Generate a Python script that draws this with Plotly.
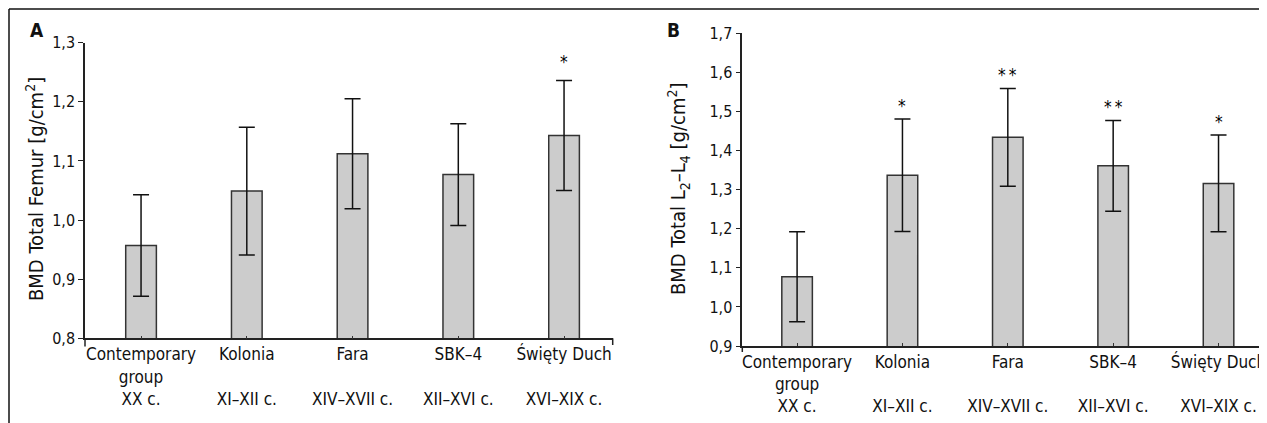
import plotly.graph_objects as go

# The page body adds an 8px margin, so the figure is drawn 8px smaller and
# every screen position below is converted to figure coordinates.
SCREEN_W, SCREEN_H = 1267, 423
OFF = 8
W, H = SCREEN_W - OFF, SCREEN_H - OFF

groups = ["Contemporary group", "Kolonia", "Fara", "SBK-4", "Swiety Duch"]
tick_labels = [
    "Contemporary<br>group<br>XX c.",
    "Kolonia<br> <br>XI–XII c.",
    "Fara<br> <br>XIV–XVII c.",
    "SBK–4<br> <br>XII–XVI c.",
    "Święty Duch<br> <br>XVI–XIX c.",
]

femur_mean = [0.957, 1.049, 1.112, 1.077, 1.143]
femur_sd = [0.086, 0.108, 0.093, 0.086, 0.093]
femur_sig = ["", "", "", "", "*"]

spine_mean = [1.077, 1.337, 1.434, 1.361, 1.316]
spine_sd = [0.115, 0.144, 0.125, 0.116, 0.124]
spine_sig = ["", "*", "**", "**", "*"]

FONT = "DejaVu Sans Condensed, Liberation Sans Narrow, Arial Narrow, DejaVu Sans, sans-serif"


def px_x(v):
    return (v - OFF) / W


def px_y(v):
    return 1 - (v - OFF) / H


fig = go.Figure()


def add_panel(mean, sd, sig, xa, ya, star_shift):
    fig.add_trace(go.Bar(
        x=groups, y=mean, width=0.29,
        marker=dict(color="#cccccc", line=dict(color="#333333", width=1.5)),
        error_y=dict(type="data", array=sd, color="#111111", thickness=1.5, width=8),
        xaxis=xa, yaxis=ya, hoverinfo="skip",
    ))
    for g, m, s, t in zip(groups, mean, sd, sig):
        if not t:
            continue
        fig.add_annotation(
            x=g, y=m + s, xref=xa, yref=ya, text=t.replace("**", "*\u2009*"),
            showarrow=False, xanchor="center", yanchor="bottom", yshift=star_shift,
            font=dict(size=17, color="#000", family=FONT),
        )


add_panel(femur_mean, femur_sd, femur_sig, "x", "y", 7)
add_panel(spine_mean, spine_sd, spine_sig, "x2", "y2", 1)

xcommon = dict(
    showline=True, linecolor="#222", linewidth=1.5, ticks="inside", ticklen=3,
    tickcolor="#333", tickvals=groups, ticktext=tick_labels, showgrid=False,
    zeroline=False, tickfont=dict(size=17, color="#111", family=FONT),
    fixedrange=True, automargin=False,
)
ycommon = dict(
    showline=True, linecolor="#222", linewidth=1.5, ticks="outside", ticklen=5,
    tickcolor="#222", dtick=0.1, tickformat=".1f", showgrid=False, zeroline=False,
    tickfont=dict(size=16, color="#111", family=FONT), fixedrange=True, automargin=False,
)

fig.update_layout(
    width=W, height=H, margin=dict(l=0, r=0, t=0, b=0),
    paper_bgcolor="white", plot_bgcolor="white", showlegend=False,
    separators=", ", font=dict(family=FONT, color="#111"),
    xaxis=dict(domain=[px_x(85), px_x(612.7)], anchor="y", range=[-0.53, 4.46], **xcommon),
    yaxis=dict(domain=[px_y(338.3), px_y(42.7)], anchor="x", range=[0.8, 1.3], **ycommon),
    xaxis2=dict(domain=[px_x(742.3), 1.0], anchor="y2", range=[-0.52, 4.46], **xcommon),
    yaxis2=dict(domain=[px_y(346), px_y(33.3)], anchor="x2", range=[0.9, 1.7], **ycommon),
)

# outer frame (top and left)
fig.add_shape(type="line", xref="paper", yref="paper", x0=px_x(9), x1=1, y0=px_y(9), y1=px_y(9),
              line=dict(color="#111", width=1.5))
fig.add_shape(type="line", xref="paper", yref="paper", x0=px_x(9), x1=px_x(9), y0=0, y1=px_y(9),
              line=dict(color="#111", width=1.5))
# axis extensions
fig.add_shape(type="line", xref="paper", yref="paper", x0=px_x(85), x1=px_x(85), y0=px_y(338.3), y1=px_y(346.5),
              line=dict(color="#222", width=1.5))
fig.add_shape(type="line", xref="paper", yref="paper", x0=px_x(612.7), x1=px_x(612.7), y0=px_y(338.3), y1=px_y(345),
              line=dict(color="#222", width=1.5))
fig.add_shape(type="line", xref="paper", yref="paper", x0=px_x(742.3), x1=px_x(742.3), y0=px_y(346), y1=px_y(352),
              line=dict(color="#222", width=1.5))

# panel letters
for letter, lx in (("A", 37), ("B", 673)):
    fig.add_annotation(text=f"<b>{letter}</b>", xref="paper", yref="paper", x=px_x(lx), y=px_y(30),
                       xanchor="center", yanchor="middle", showarrow=False,
                       font=dict(size=19, family=FONT, color="#111"))

# axis titles
fig.add_annotation(text="BMD Total Femur [g/cm<sup>2</sup>]", xref="paper", yref="paper",
                   x=px_x(35), y=px_y(189), textangle=-90, showarrow=False,
                   xanchor="center", yanchor="middle",
                   font=dict(size=20, family=FONT, color="#111"))
fig.add_annotation(text="BMD Total L<sub>2</sub>–L<sub>4</sub> [g/cm<sup>2</sup>]", xref="paper", yref="paper",
                   x=px_x(678), y=px_y(189), textangle=-90, showarrow=False,
                   xanchor="center", yanchor="middle",
                   font=dict(size=20, family=FONT, color="#111"))

fig.write_html("out.html")
